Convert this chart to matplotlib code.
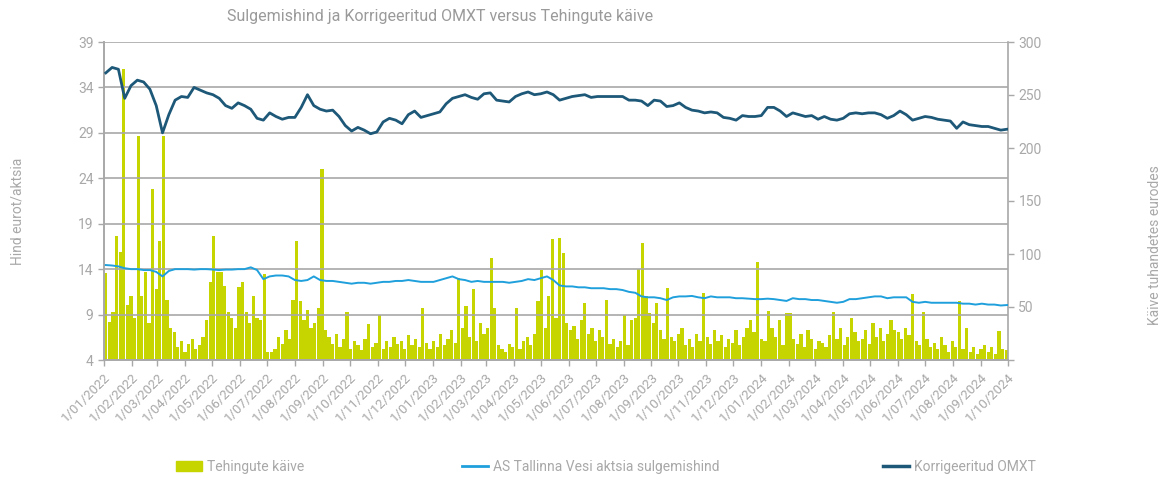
import matplotlib
matplotlib.use("Agg")
import matplotlib.pyplot as plt
import matplotlib.dates as mdates
from matplotlib.ticker import FuncFormatter, FixedLocator
from matplotlib.patches import Patch
from matplotlib.lines import Line2D
import pandas as pd

plt.rcParams['font.family'] = ['Roboto', 'DejaVu Sans']

# weekly closing values (left axis, eur/share)
line_start = '2022-01-03'
omxt_corr = [
    35.6, 36.2, 36.0, 32.8, 34.2, 34.8, 34.6, 33.8, 32.0, 29.0,
    31.0, 32.6, 33.0, 32.9, 34.0, 33.7, 33.4, 33.2, 32.8, 32.0,
    31.7, 32.3, 32.0, 31.6, 30.6, 30.4, 31.2, 30.8, 30.5, 30.7,
    30.7, 31.8, 33.2, 32.0, 31.6, 31.4, 31.5, 30.8, 29.8, 29.2,
    29.6, 29.3, 28.9, 29.1, 30.2, 30.6, 30.4, 30.0, 31.0, 31.4,
    30.7, 30.9, 31.1, 31.3, 32.2, 32.8, 33.0, 33.2, 32.9, 32.7,
    33.3, 33.4, 32.6, 32.5, 32.4, 33.0, 33.3, 33.5, 33.2, 33.3,
    33.5, 33.2, 32.6, 32.8, 33.0, 33.1, 33.2, 32.9, 33.0, 33.0,
    33.0, 33.0, 33.0, 32.6, 32.6, 32.5, 32.0, 32.6, 32.5, 31.9,
    32.0, 32.3, 31.8, 31.5, 31.4, 31.2, 31.3, 31.2, 30.7, 30.6,
    30.4, 30.9, 30.8, 30.8, 30.9, 31.8, 31.8, 31.4, 30.8, 31.2,
    31.0, 30.8, 30.9, 30.5, 30.8, 30.5, 30.4, 30.6, 31.1, 31.2,
    31.1, 31.2, 31.2, 31.0, 30.6, 30.9, 31.4, 31.0, 30.4, 30.6,
    30.8, 30.7, 30.5, 30.4, 30.3, 29.5, 30.2, 29.9, 29.8, 29.7,
    29.7, 29.5, 29.3, 29.4,
]
tvesi_close = [
    14.45, 14.4, 14.3, 14.1, 14.0, 14.0, 13.9, 13.9, 13.7, 13.2,
    13.8, 14.0, 14.0, 14.0, 13.95, 14.0, 14.0, 13.95, 13.9, 13.95,
    13.95, 14.0, 14.0, 14.2, 13.9, 12.9, 13.2, 13.3, 13.3, 13.2,
    12.8, 12.7, 12.8, 13.2, 12.8, 12.7, 12.7, 12.6, 12.5, 12.4,
    12.5, 12.5, 12.4, 12.5, 12.6, 12.6, 12.7, 12.7, 12.8, 12.7,
    12.6, 12.6, 12.6, 12.8, 13.0, 13.2, 12.9, 12.8, 12.6, 12.7,
    12.6, 12.6, 12.6, 12.6, 12.5, 12.6, 12.7, 12.9, 12.8, 13.0,
    13.2, 12.8, 12.2, 12.1, 12.1, 12.0, 12.0, 11.9, 11.9, 11.9,
    11.8, 11.8, 11.7, 11.5, 11.4, 11.0, 10.9, 10.9, 10.8, 10.6,
    10.9, 11.0, 11.0, 11.05, 10.9, 10.8, 11.0, 10.9, 10.9, 10.9,
    10.8, 10.8, 10.75, 10.7, 10.7, 10.75, 10.7, 10.6, 10.5, 10.8,
    10.7, 10.7, 10.6, 10.6, 10.5, 10.4, 10.3, 10.4, 10.7, 10.7,
    10.8, 10.9, 11.0, 11.0, 10.8, 10.9, 10.9, 10.9, 10.4, 10.3,
    10.4, 10.3, 10.3, 10.3, 10.3, 10.3, 10.2, 10.2, 10.1, 10.2,
    10.1, 10.1, 10.0, 10.05,
]

# turnover, thousand eur, one value per 4 days (right axis)
bar_start = '2022-01-03'
turnover = [
    82, 36, 45, 117, 102, 275, 52, 60, 40, 211,
    60, 83, 35, 161, 67, 112, 211, 57, 30, 26,
    12, 18, 8, 15, 20, 10, 14, 22, 38, 74,
    117, 83, 83, 70, 45, 40, 30, 69, 74, 45,
    35, 60, 40, 38, 81, 8, 8, 10, 22, 15,
    28, 20, 57, 112, 56, 38, 47, 30, 35, 49,
    180, 28, 22, 15, 25, 12, 20, 45, 10, 18,
    14, 9, 20, 34, 12, 16, 42, 10, 18, 12,
    22, 15, 18, 10, 24, 14, 20, 12, 49, 16,
    10, 18, 12, 25, 14, 20, 28, 16, 77, 30,
    51, 22, 67, 18, 35, 25, 30, 96, 49, 14,
    10, 8, 15, 12, 49, 10, 18, 22, 14, 25,
    56, 85, 30, 60, 114, 40, 115, 101, 35, 28,
    32, 20, 38, 54, 25, 30, 18, 28, 22, 57,
    15, 20, 12, 18, 42, 14, 38, 40, 86, 110,
    60, 44, 35, 54, 28, 20, 68, 22, 18, 25,
    30, 14, 20, 12, 25, 18, 63, 22, 15, 28,
    18, 24, 12, 20, 16, 28, 14, 22, 30, 38,
    26, 92, 20, 18, 46, 30, 22, 38, 14, 44,
    44, 20, 15, 25, 12, 28, 20, 10, 18, 16,
    12, 24, 45, 20, 30, 14, 22, 40, 26, 18,
    20, 28, 15, 35, 22, 30, 18, 25, 38, 28,
    26, 20, 30, 24, 62, 18, 14, 45, 20, 12,
    16, 10, 22, 14, 8, 18, 12, 56, 10, 30,
    8, 12, 6, 10, 14, 8, 12, 6, 27, 10, 9,
]

title = "Sulgemishind ja Korrigeeritud OMXT versus Tehingute käive"
left_label = "Hind eurot/aktsia"
right_label = "Käive tuhandetes eurodes"
legend_labels = ["Tehingute käive", "AS Tallinna Vesi aktsia sulgemishind",
                 "Korrigeeritud OMXT"]
left_ticks = [4, 9, 14, 19, 24, 29, 34, 39]
right_ticks = [0, 50, 100, 150, 200, 250, 300]

c_bar = '#c6d400'
c_light = '#1fa0dc'
c_dark = '#1d5878'
c_grid = '#a8a8a8'
c_text = '#a8a8a8'

line_dates = pd.date_range(line_start, periods=len(omxt_corr), freq='7D')
bar_dates = pd.date_range(bar_start, periods=len(turnover), freq='4D')

fig = plt.figure(figsize=(11.65, 4.8), dpi=100)
ax = fig.add_axes([104 / 1165, 1 - 360 / 480, 904 / 1165, 318 / 480])
ax2 = ax.twinx()

# bars on right scale, lines on left scale drawn on top
ax2.bar(bar_dates, turnover, width=3.6, color=c_bar, linewidth=0)
ax.set_zorder(ax2.get_zorder() + 1)
ax.patch.set_visible(False)

ax.plot(line_dates, tvesi_close, color=c_light, lw=1.4, zorder=3)
ax.plot(line_dates, omxt_corr, color=c_dark, lw=2.0, zorder=4)

ax.set_ylim(4, 39)
ax.set_yticks(left_ticks)
ax2.set_ylim(0, 300)
ax2.yaxis.set_major_locator(FixedLocator(right_ticks))
ax2.yaxis.set_major_formatter(FuncFormatter(lambda v, p: '' if v == 0 else f'{v:.0f}'))

ax.set_xlim(pd.Timestamp('2022-01-01'), pd.Timestamp('2024-10-01'))
ax.xaxis.set_major_locator(mdates.MonthLocator())
ax.xaxis.set_major_formatter(FuncFormatter(
    lambda v, p: (lambda d: f"{d.day}/{d:%m/%Y}")(mdates.num2date(v))))

ax.grid(axis='y', color=c_grid, lw=1.2)
for a in (ax, ax2):
    a.spines['top'].set_visible(False)
    for s in ('left', 'right', 'bottom'):
        a.spines[s].set_color(c_grid)
        a.spines[s].set_linewidth(1.2)
ax.spines['right'].set_visible(False)

ax.tick_params(axis='y', colors=c_grid, labelcolor=c_text, labelsize=10, length=4, width=1)
ax2.tick_params(axis='y', colors=c_grid, labelcolor=c_text, labelsize=10, length=4, width=1)
ax.tick_params(axis='x', colors=c_grid, labelcolor=c_text, labelsize=9.5, length=4, width=1)
for lab in ax.get_xticklabels():
    lab.set_rotation(45)
    lab.set_ha('right')
    lab.set_rotation_mode('anchor')

fig.text(440 / 1165, 1 - 16 / 480, title, ha='center', va='center',
         fontsize=11.5, color='#9a9a9a')
fig.text(18 / 1165, 1 - 211 / 480, left_label, rotation=90, ha='center',
         va='center', fontsize=10, color=c_text)
fig.text(1155 / 1165, 1 - 245 / 480, right_label, rotation=90, ha='center',
         va='center', fontsize=10, color=c_text)

handles = [Patch(color=c_bar), Line2D([], [], color=c_light, lw=2),
           Line2D([], [], color=c_dark, lw=2.5)]
for h, lab, x in zip(handles, legend_labels, [176, 462, 883]):
    fig.legend([h], [lab], loc='center left', bbox_to_anchor=(x / 1165, 1 - 467 / 480),
               frameon=False, fontsize=10, labelcolor=c_text, borderpad=0,
               borderaxespad=0, handletextpad=0.3, handlelength=1.9)

fig.savefig('out.png', dpi=100)
